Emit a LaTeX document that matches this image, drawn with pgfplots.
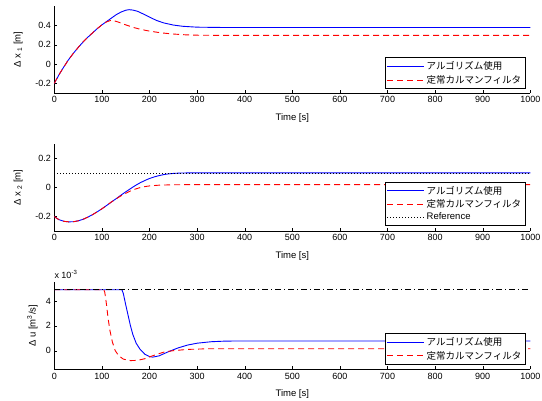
\documentclass[border=0pt]{standalone}
\usepackage{fontspec}
\setmainfont{Liberation Sans}
\newfontfamily\jp{Noto Sans CJK JP}
\usepackage{pgfplots}
\pgfplotsset{compat=1.18}
\definecolor{mblue}{RGB}{0,0,255}
\definecolor{mred}{RGB}{255,0,0}

\pgfplotsset{
  mstyle/.style={
    scale only axis,
    width=476pt, height=87pt,
    anchor=south west,
    xmin=0, xmax=1000,
    xtick={0,100,...,1000},
    axis lines*=left,
    axis line style={-},
    tick align=inside,
    major tick length=3pt,
    tick style={black},
    every tick label/.append style={font=\fontsize{9}{10}\selectfont},
    /pgf/number format/assume math mode=true,
    /pgf/number format/1000 sep={},
    xlabel={Time [s]},
    xlabel style={font=\fontsize{9.5}{10}\selectfont, at={(axis description cs:0.5,0)}, anchor=center, yshift=-25pt},
    ylabel style={font=\fontsize{9.5}{10}\selectfont},
    legend style={font=\fontsize{9.5}{11}\selectfont, draw=black, fill=white,
      inner xsep=2pt, inner ysep=2pt, row sep=0pt, anchor=north east, line width=0.6pt},
    legend cell align=left,
    legend image code/.code={\draw[#1] (0pt,0pt) -- (37pt,0pt);},
    clip=false,
  },
  blueline/.style={color=mblue, draw=mblue, line width=0.9pt},
  redline/.style={color=mred, draw=mred, line width=0.9pt, dash pattern=on 6pt off 4pt},
}

\begin{document}
\begin{tikzpicture}
\useasboundingbox (0pt,0pt) rectangle (542pt,400pt);

% top: x1
\begin{axis}[mstyle, at={(54.3pt,307pt)},
  ymin=-0.3, ymax=0.6, ytick={-0.2,0,0.2,0.4},
  yticklabels={-0.2,0,0.2,0.4},
  ylabel={Δ x\textsubscript{ 1} [m]},
  ylabel style={at={(axis description cs:-0.076,0.5)}, anchor=center},
  legend style={at={(0.99,0.41)}},
]
\addplot[blueline] coordinates {(0,-0.2) (10,-0.11) (20,-0.03) (30,0.045) (40,0.11) (50,0.17) (60,0.225) (70,0.275) (80,0.32) (90,0.365) (100,0.405) (110,0.44) (120,0.475) (130,0.51) (140,0.537) (150,0.556) (157,0.562) (165,0.558) (175,0.545) (185,0.522) (200,0.485) (215,0.45) (230,0.425) (250,0.403) (270,0.39) (300,0.381) (350,0.378) (1000,0.378)};
\addplot[redline] coordinates {(0,-0.2) (10,-0.11) (20,-0.03) (30,0.045) (40,0.11) (50,0.17) (60,0.225) (70,0.275) (80,0.32) (90,0.365) (100,0.405) (110,0.436) (118,0.45) (125,0.448) (135,0.433) (150,0.405) (165,0.38) (180,0.36) (200,0.34) (225,0.322) (250,0.31) (275,0.302) (300,0.298) (350,0.296) (1000,0.296)};
\legend{{\jp アルゴリズム使用},{\jp 定常カルマンフィルタ}}
\end{axis}

% middle: x2
\begin{axis}[mstyle, at={(54.3pt,169pt)},
  ymin=-0.3, ymax=0.3, ytick={-0.2,0,0.2},
  yticklabels={-0.2,0,0.2},
  ylabel={Δ x\textsubscript{ 2} [m]},
  ylabel style={at={(axis description cs:-0.076,0.5)}, anchor=center},
  legend style={at={(0.99,0.567)}},
]
\addplot[blueline] coordinates {(0,-0.2) (5,-0.212) (10,-0.222) (20,-0.233) (30,-0.237) (40,-0.236) (50,-0.23) (60,-0.22) (70,-0.205) (80,-0.188) (90,-0.168) (100,-0.147) (110,-0.124) (120,-0.1) (130,-0.077) (140,-0.053) (150,-0.03) (160,-0.008) (170,0.013) (180,0.032) (190,0.048) (200,0.062) (210,0.073) (220,0.082) (230,0.089) (240,0.094) (250,0.097) (265,0.1) (300,0.101) (1000,0.101)};
\addplot[redline] coordinates {(0,-0.2) (5,-0.212) (10,-0.222) (20,-0.233) (30,-0.237) (40,-0.236) (50,-0.23) (60,-0.22) (70,-0.205) (80,-0.188) (90,-0.168) (100,-0.147) (110,-0.124) (120,-0.1) (130,-0.078) (140,-0.058) (150,-0.04) (160,-0.024) (170,-0.011) (180,-0.001) (190,0.006) (200,0.011) (220,0.016) (250,0.019) (300,0.02) (1000,0.02)};
\addplot[color=black, draw=black, line width=0.8pt, dash pattern=on 1pt off 2pt] coordinates {(0,0.1) (1000,0.1)};
\legend{{\jp アルゴリズム使用},{\jp 定常カルマンフィルタ},Reference}
\end{axis}

% bottom: u (x 10^-3)
\begin{axis}[mstyle, at={(54.3pt,30.7pt)},
  ymin=-1.5, ymax=5.5, ytick={0,2,4},
  ylabel={Δ u [m\textsuperscript{3}/s]},
  ylabel style={at={(axis description cs:-0.046,0.5)}, anchor=center},
  legend style={at={(0.99,0.414)}},
]
\addplot[blueline] coordinates {(0,4.9) (142,4.9) (145,4.6) (150,3.7) (155,2.85) (160,2.0) (165,1.3) (172,0.6) (180,0.12) (190,-0.28) (200,-0.48) (207,-0.52) (220,-0.42) (240,-0.08) (260,0.22) (280,0.45) (300,0.6) (330,0.72) (360,0.77) (400,0.78) (1000,0.78)};
\addplot[redline] coordinates {(0,4.9) (104,4.9) (106,4.7) (108,4.2) (110,3.6) (113,2.6) (117,1.6) (122,0.7) (128,0.0) (135,-0.4) (145,-0.68) (160,-0.8) (175,-0.78) (190,-0.65) (200,-0.5) (215,-0.3) (230,-0.12) (250,0.0) (280,0.1) (320,0.15) (1000,0.15)};
\addplot[black, line width=0.8pt, dash pattern=on 6pt off 3pt on 1pt off 3pt, forget plot] coordinates {(0,4.9) (1000,4.9)};
\legend{{\jp アルゴリズム使用},{\jp 定常カルマンフィルタ}}
\node[anchor=south west, font=\fontsize{9}{10}\selectfont, inner sep=0pt] at (axis description cs:0,1.04) {x 10\textsuperscript{-3}};
\end{axis}
\end{tikzpicture}
\end{document}
